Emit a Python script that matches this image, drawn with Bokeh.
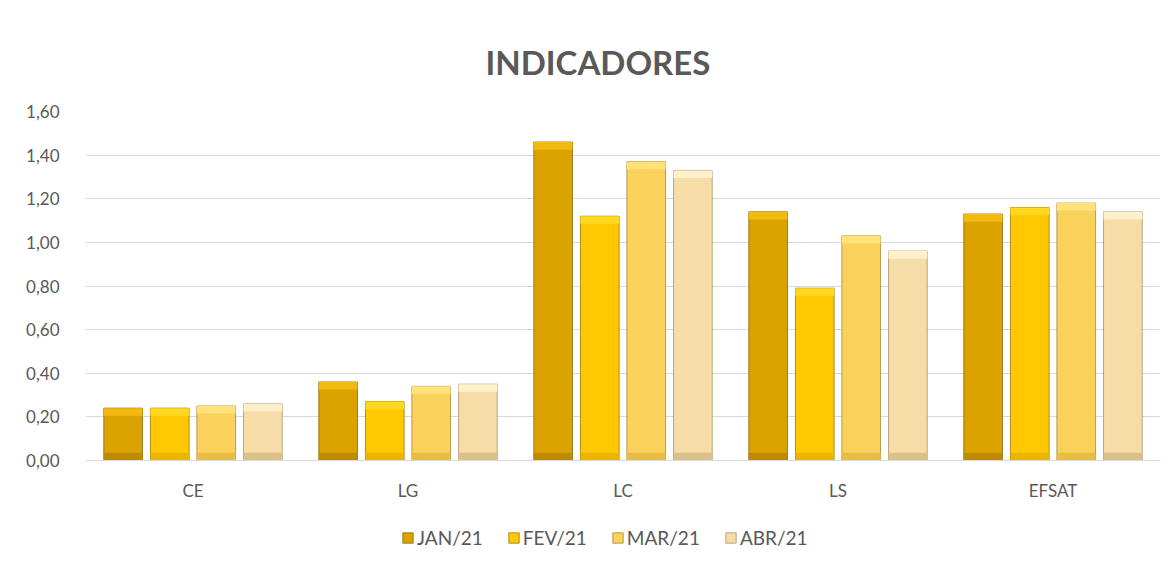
from bokeh.plotting import figure
from bokeh.models import (FactorRange, Range1d, Legend, LegendItem, CustomJSTickFormatter,
                          ColumnDataSource, FixedTicker)
from bokeh.transform import dodge
from bokeh.embed import file_html
from bokeh.resources import INLINE

categories = ["CE", "LG", "LC", "LS", "EFSAT"]
months = ["JAN/21", "FEV/21", "MAR/21", "ABR/21"]
jan = [0.24, 0.36, 1.46, 1.14, 1.13]
fev = [0.24, 0.27, 1.12, 0.79, 1.16]
mar = [0.25, 0.34, 1.37, 1.03, 1.18]
abr = [0.26, 0.35, 1.33, 0.96, 1.14]
y_ticks = [0.0, 0.2, 0.4, 0.6, 0.8, 1.0, 1.2, 1.4, 1.6]

series = [jan, fev, mar, abr]
body_colors = ["#DCA300", "#FFC800", "#FAD15A", "#F6DCA6"]
top_colors = ["#F2BA10", "#FFD820", "#FFE27A", "#FFF0CC"]
bottom_colors = ["#BE8A00", "#EAB400", "#E8BC45", "#DCC08A"]
edge_colors = ["#7A5A00", "#8A6A00", "#9A7A30", "#9A8A60"]
offsets = [-0.325, -0.108, 0.108, 0.325]
bar_w = 0.18
bevel = 0.035

FONT = "Lato"
GRAY = "#595959"

# frame extends below the zero line so the legend can sit inside it
p = figure(x_range=FactorRange(*categories), y_range=Range1d(-0.463, 1.6),
           frame_width=1075, frame_height=450, output_backend="svg", toolbar_location=None,
           min_border_left=85, min_border_right=7, min_border_top=111, min_border_bottom=0)
p.outline_line_color = None
p.background_fill_color = "white"
p.border_fill_color = "white"

items = []
for i, vals in enumerate(series):
    src = ColumnDataSource(dict(cat=categories, top=vals,
                                btop=[v - bevel for v in vals],
                                bb=[bevel for _ in vals]))
    x = dodge("cat", offsets[i], range=p.x_range)
    r = p.vbar(x=x, top="top", bottom=0, width=bar_w, source=src,
               fill_color=body_colors[i], line_color=edge_colors[i], line_width=1, line_alpha=0.7)
    p.vbar(x=x, top="top", bottom="btop", width=bar_w, source=src,
           fill_color=top_colors[i], line_color=None)
    p.vbar(x=x, top="bb", bottom=0, width=bar_w, source=src,
           fill_color=bottom_colors[i], line_color=None)
    items.append(LegendItem(label=months[i], renderers=[r]))

p.title.text = "INDICADORES"
p.title.align = "left"
p.title.text_font = FONT
p.title.text_font_size = "33px"
p.title.text_font_style = "bold"
p.title.text_color = GRAY
p.title.standoff = 60
p.title.offset = 400

p.yaxis.ticker = FixedTicker(ticks=y_ticks)
p.yaxis.formatter = CustomJSTickFormatter(code="return tick.toFixed(2).replace('.', ',');")
p.yaxis.axis_line_color = None
p.yaxis.major_tick_line_color = None
p.yaxis.minor_tick_line_color = None
p.yaxis.major_label_text_font = FONT
p.yaxis.major_label_text_font_size = "17px"
p.yaxis.major_label_text_color = GRAY
p.yaxis.major_label_standoff = 20

p.xaxis.fixed_location = 0
p.xaxis.axis_line_color = "#D9D9D9"
p.xaxis.major_tick_line_color = None
p.xaxis.minor_tick_line_color = None
p.xaxis.major_tick_out = 0
p.xaxis.major_label_text_font = FONT
p.xaxis.major_label_text_font_size = "17px"
p.xaxis.major_label_text_color = GRAY
p.xaxis.major_label_standoff = 19

p.xgrid.grid_line_color = None
p.ygrid.grid_line_color = "#D9D9D9"
p.ygrid.grid_line_width = 1

legend = Legend(items=items, orientation="horizontal", location=(316, 12))
legend.label_text_font = FONT
legend.label_text_font_size = "19px"
legend.label_text_color = GRAY
legend.glyph_width = 13
legend.glyph_height = 13
legend.spacing = 24
legend.label_standoff = 3
legend.border_line_color = None
legend.background_fill_alpha = 0
legend.padding = 0
legend.margin = 0
p.add_layout(legend, "center")

open("out.html", "w").write(file_html(p, INLINE))
